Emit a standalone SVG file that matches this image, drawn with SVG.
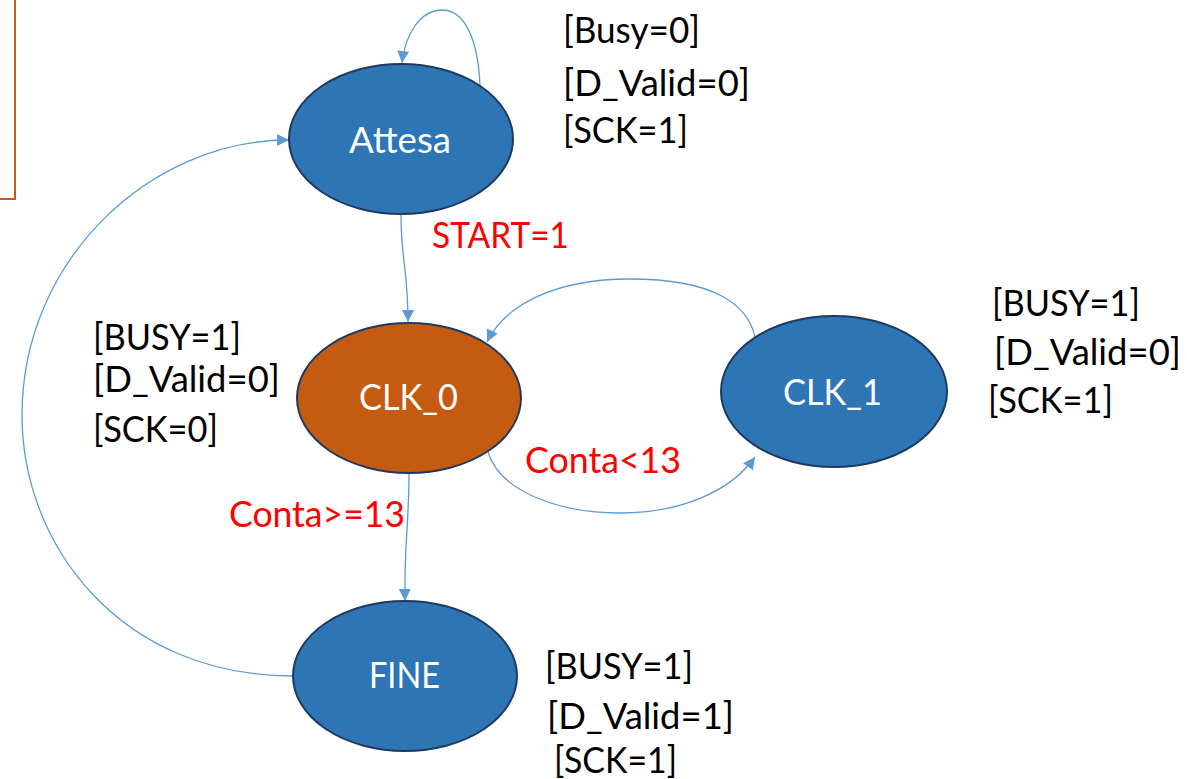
<svg xmlns="http://www.w3.org/2000/svg" width="1187" height="779" viewBox="0 0 1187 779">
  <style>
    .state { stroke: #1F3A5F; stroke-width: 2; }
    .blue { fill: #2E75B6; }
    .orange { fill: #C55A11; }
    .name { fill: #FFFFFF; font-family: Lato, "Liberation Sans", sans-serif; font-size: 36px; }
    .out { fill: #000000; font-family: Lato, "Liberation Sans", sans-serif; font-size: 37px; }
    .cond { fill: #FF0000; font-family: Lato, "Liberation Sans", sans-serif; font-size: 37px; }
    .edge { fill: none; stroke: #5B9BD5; stroke-width: 1.3; marker-end: url(#arrow); }
  </style>
  <defs>
    <marker id="arrow" viewBox="0 0 12 12" refX="12" refY="6" markerWidth="13" markerHeight="12" markerUnits="userSpaceOnUse" orient="auto">
      <path d="M0,0 L12,6 L0,12 z" fill="#5B9BD5"/>
    </marker>
  </defs>

  <rect width="1187" height="779" fill="#FFFFFF"/>

  <!-- frame edge at the top-left corner -->
  <rect x="-20" y="-20" width="35" height="219" fill="none" stroke="#C55A11" stroke-width="2"/>

  <g id="connectors">
    <!-- Attesa self loop -->
    <path class="edge" d="M480,85 C478,40 465,10 442,10 C420,10 405,35 402,63"/>
    <!-- Attesa -> CLK_0 -->
    <path class="edge" d="M401,214 C401,262 408,268 408,322"/>
    <!-- CLK_0 -> CLK_1 -->
    <path class="edge" d="M488,452 C500,492 560,513 620,513 C680,513 730,492 755,457"/>
    <!-- CLK_1 -> CLK_0 -->
    <path class="edge" d="M755,337 C748,305 715,279 630,279 C555,279 505,305 487,342"/>
    <!-- CLK_0 -> FINE -->
    <path class="edge" d="M409,473 C409,525 404,545 405,601"/>
    <!-- FINE -> Attesa -->
    <path class="edge" d="M293,676 C120,676 22,545 22,415 C22,260 150,140 289,140"/>
  </g>

  <g id="attesa">
    <ellipse class="state blue" cx="401" cy="139" rx="112" ry="75"/>
    <text class="name" x="349" y="153" textLength="102" lengthAdjust="spacingAndGlyphs">Attesa</text>
  </g>
  <g id="clk0">
    <ellipse class="state orange" cx="409" cy="398" rx="112" ry="75"/>
    <text class="name" x="359" y="410" textLength="99" lengthAdjust="spacingAndGlyphs">CLK_0</text>
  </g>
  <g id="clk1">
    <ellipse class="state blue" cx="834" cy="391.5" rx="113" ry="75.5"/>
    <text class="name" x="783" y="405" textLength="99" lengthAdjust="spacingAndGlyphs">CLK_1</text>
  </g>
  <g id="fine">
    <ellipse class="state blue" cx="405" cy="676" rx="112" ry="75"/>
    <text class="name" x="369" y="688" textLength="71" lengthAdjust="spacingAndGlyphs">FINE</text>
  </g>

  <!-- transition conditions -->
  <g id="conditions">
    <text class="cond" x="432" y="248" textLength="137" lengthAdjust="spacingAndGlyphs">START=1</text>
    <text class="cond" x="525" y="473" textLength="156" lengthAdjust="spacingAndGlyphs">Conta&lt;13</text>
    <text class="cond" x="229" y="527" textLength="176" lengthAdjust="spacingAndGlyphs">Conta&gt;=13</text>
  </g>

  <!-- state outputs -->
  <g id="out-attesa">
    <text class="out" x="563" y="43" textLength="137" lengthAdjust="spacingAndGlyphs">[Busy=0]</text>
    <text class="out" x="563" y="96" textLength="187" lengthAdjust="spacingAndGlyphs">[D_Valid=0]</text>
    <text class="out" x="563" y="143" textLength="125" lengthAdjust="spacingAndGlyphs">[SCK=1]</text>
  </g>
  <g id="out-clk0">
    <text class="out" x="93" y="350" textLength="148" lengthAdjust="spacingAndGlyphs">[BUSY=1]</text>
    <text class="out" x="93" y="392" textLength="187" lengthAdjust="spacingAndGlyphs">[D_Valid=0]</text>
    <text class="out" x="93" y="442" textLength="125" lengthAdjust="spacingAndGlyphs">[SCK=0]</text>
  </g>
  <g id="out-clk1">
    <text class="out" x="992" y="316" textLength="148" lengthAdjust="spacingAndGlyphs">[BUSY=1]</text>
    <text class="out" x="994" y="365" textLength="187" lengthAdjust="spacingAndGlyphs">[D_Valid=0]</text>
    <text class="out" x="988" y="413" textLength="125" lengthAdjust="spacingAndGlyphs">[SCK=1]</text>
  </g>
  <g id="out-fine">
    <text class="out" x="545" y="679" textLength="148" lengthAdjust="spacingAndGlyphs">[BUSY=1]</text>
    <text class="out" x="547" y="729" textLength="187" lengthAdjust="spacingAndGlyphs">[D_Valid=1]</text>
    <text class="out" x="554" y="773" textLength="123" lengthAdjust="spacingAndGlyphs">[SCK=1]</text>
  </g>
</svg>
